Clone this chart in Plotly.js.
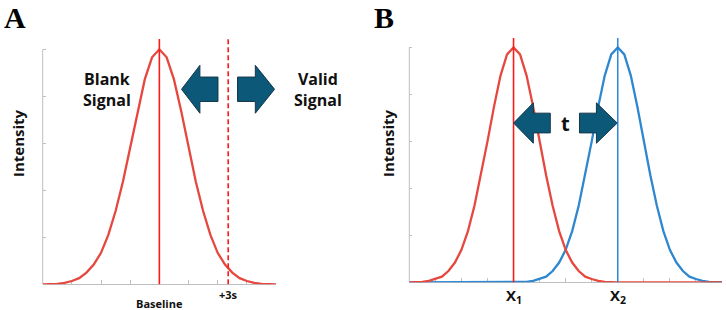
<!DOCTYPE html>
<html>
<head>
<meta charset="utf-8">
<script src="https://cdn.plot.ly/plotly-3.0.1.min.js"></script>
<style>
html,body{margin:0;padding:0;background:#ffffff;}
#chart{width:726px;height:310px;}
</style>
</head>
<body>
<div id="chart"></div>
<script>
// ---- Data (intensity, 0..5 scale) ----
// Panel A: blank-signal distribution sampled every 0.25 x-unit, x = 0 .. 8
const blankSignal = [0, 0, 0.01, 0.03, 0.07, 0.13, 0.25, 0.42, 0.67, 1.05, 1.56, 2.18, 2.92, 3.68, 4.36, 4.83,
  5.0,
  4.83, 4.36, 3.68, 2.92, 2.18, 1.56, 1.05, 0.67, 0.42, 0.25, 0.13, 0.07, 0.03, 0.01, 0, 0];
// Panel B: two distributions sampled every 0.25 x-unit, x = 0 .. 12
const peakX1 = [0, 0, 0.01, 0.03, 0.07, 0.12, 0.24, 0.42, 0.69, 1.09, 1.63, 2.28, 3.0, 3.74, 4.40, 4.85,
  5.0,
  4.85, 4.40, 3.74, 3.0, 2.28, 1.63, 1.09, 0.69, 0.42, 0.24, 0.12, 0.07, 0.03, 0.01, 0,
  0, 0, 0, 0, 0, 0, 0, 0, 0, 0, 0, 0, 0, 0, 0, 0, 0];
const peakX2 = [0, 0, 0, 0, 0, 0, 0, 0, 0, 0, 0, 0, 0, 0, 0, 0,
  0, 0, 0.01, 0.03, 0.07, 0.12, 0.24, 0.42, 0.69, 1.09, 1.63, 2.28, 3.0, 3.74, 4.40, 4.85,
  5.0,
  4.85, 4.40, 3.74, 3.0, 2.28, 1.63, 1.09, 0.69, 0.42, 0.24, 0.12, 0.07, 0.03, 0.01, 0, 0];
const sampleStep = 0.25;

// marker positions (x units)
const baselineX = 4;
const threeSigmaX = 6.36;
const x1Pos = 4;
const x2Pos = 8;

// labels
const labelsA = ['Baseline', '+3s'];
const labelsB = ['X<sub>1</sub>', 'X<sub>2</sub>'];
const yTickVals = [1, 2, 3, 4, 5];
const xTickValsA = [1, 2, 3, 4, 5, 6, 7];
const xTickValsB = [1, 2, 3, 4, 5, 6, 7, 8, 9, 10, 11];

// ---- styles ----
const RED_CURVE = '#E6473E';
const RED_LINE = '#FF1A1A';
const BLUE_CURVE = '#2E87CF';
const BLUE_LINE = '#1F80D6';
const AXIS_GREY = '#BFBFBF';
const ARROW_FILL = '#0B5878';
const ARROW_EDGE = '#17374A';
const TEXT = '#111111';
const SANS = 'Open Sans, Noto Sans, DejaVu Sans, sans-serif';

const gridOf = arr => arr.map((_, i) => i * sampleStep);

const traces = [
  {x: gridOf(blankSignal), y: blankSignal, xaxis: 'x', yaxis: 'y', mode: 'lines',
   line: {color: RED_CURVE, width: 2.3}, hoverinfo: 'skip'},
  {x: gridOf(peakX2), y: peakX2, xaxis: 'x2', yaxis: 'y2', mode: 'lines',
   line: {color: BLUE_CURVE, width: 2.3}, hoverinfo: 'skip'},
  {x: gridOf(peakX1), y: peakX1, xaxis: 'x2', yaxis: 'y2', mode: 'lines',
   line: {color: RED_CURVE, width: 2.3}, hoverinfo: 'skip'}
];

function arrowPath(tip, base, tail, yc, hh, hs) {
  return 'M ' + tip + ',' + yc +
    ' L ' + base + ',' + (yc + hh) +
    ' L ' + base + ',' + (yc + hs) +
    ' L ' + tail + ',' + (yc + hs) +
    ' L ' + tail + ',' + (yc - hs) +
    ' L ' + base + ',' + (yc - hs) +
    ' L ' + base + ',' + (yc - hh) + ' Z';
}
function arrowShape(xr, yr, path) {
  return {type: 'path', xref: xr, yref: yr, path: path, fillcolor: ARROW_FILL,
          line: {color: ARROW_EDGE, width: 1}, layer: 'above'};
}
function vline(xr, yr, xv, color, width, dash) {
  return {type: 'line', xref: xr, yref: yr + ' domain', x0: xv, x1: xv, y0: 0, y1: 1,
          line: {color: color, width: width, dash: dash || 'solid'}, layer: 'above'};
}
function yAxisLine(xr, yr) {
  return {type: 'line', xref: xr + ' domain', yref: yr, x0: 0, x1: 0, y0: 0, y1: 5,
          line: {color: AXIS_GREY, width: 1}, layer: 'below'};
}

const shapes = [
  yAxisLine('x', 'y'),
  yAxisLine('x2', 'y2'),
  vline('x', 'y', baselineX, RED_LINE, 1.6),
  vline('x', 'y', threeSigmaX, RED_LINE, 1.6, '5px,3px'),
  vline('x2', 'y2', x1Pos, RED_LINE, 1.6),
  vline('x2', 'y2', x2Pos, BLUE_LINE, 1.4),
  arrowShape('x', 'y', arrowPath(4.76, 5.39, 6.01, 4.15, 0.51, 0.26)),
  arrowShape('x', 'y', arrowPath(7.95, 7.29, 6.68, 4.15, 0.51, 0.26)),
  arrowShape('x2', 'y2', arrowPath(x1Pos, 4.76, 5.41, 3.39, 0.43, 0.21)),
  arrowShape('x2', 'y2', arrowPath(x2Pos - 0.02, 7.18, 6.53, 3.39, 0.43, 0.21))
];

const boldFont = (size) => ({family: SANS, size: size, color: TEXT, weight: 'bold'});
function note(text, xr, yr, x, y, font, extra) {
  return Object.assign({text: text, xref: xr, yref: yr, x: x, y: y, showarrow: false,
    xanchor: 'center', yanchor: 'middle', font: font}, extra || {});
}
const serif = {family: 'Liberation Serif, Times New Roman, serif', size: 30, color: '#000'};
const annotations = [
  note('<b>A</b>', 'paper', 'paper', 0.0207, 1, serif, {yanchor: 'top', borderpad: 0}),
  note('<b>B</b>', 'paper', 'paper', 0.5296, 1, serif, {yanchor: 'top', borderpad: 0}),
  note('<b>Intensity</b>', 'paper', 'paper', 0.0248, 0.5387, boldFont(15), {textangle: -90}),
  note('<b>Intensity</b>', 'paper', 'paper', 0.5344, 0.5387, boldFont(15), {textangle: -90}),
  note('<b>Blank<br>Signal</b>', 'paper', 'paper', 0.1474, 0.71, boldFont(16)),
  note('<b>Valid<br>Signal</b>', 'paper', 'paper', 0.438, 0.71, boldFont(16)),
  note('<b>' + labelsA[0] + '</b>', 'x', 'paper', baselineX, 0.0194, boldFont(11)),
  note('<b>' + labelsA[1] + '</b>', 'x', 'paper', threeSigmaX, 0.0516, boldFont(11)),
  note('<b>' + labelsB[0] + '</b>', 'x2', 'paper', x1Pos, 0.045, boldFont(15)),
  note('<b>' + labelsB[1] + '</b>', 'x2', 'paper', x2Pos, 0.045, boldFont(15)),
  note('<b>t</b>', 'x2', 'y2', (x1Pos + x2Pos) / 2, 3.39, boldFont(20))
];

const xCommon = {showgrid: false, zeroline: false, showline: true, linecolor: AXIS_GREY, linewidth: 1,
  layer: 'below traces', ticks: 'inside', ticklen: 4, tickcolor: AXIS_GREY, tickwidth: 1,
  showticklabels: false, fixedrange: true};
const yCommon = {showgrid: false, zeroline: false, showline: false, ticks: 'inside', ticklen: 3,
  tickcolor: AXIS_GREY, tickwidth: 1, tickvals: yTickVals, showticklabels: false, fixedrange: true};

const layout = {
  width: 726, height: 310,
  margin: {l: 0, r: 0, t: 0, b: 0, pad: 0},
  paper_bgcolor: '#ffffff', plot_bgcolor: 'rgba(0,0,0,0)',
  showlegend: false, hovermode: false,
  xaxis: Object.assign({}, xCommon, {domain: [0.0588, 0.3802], range: [0, 8], tickvals: xTickValsA, anchor: 'y'}),
  yaxis: Object.assign({}, yCommon, {domain: [0.0829, 0.8742], range: [0, 5.22], anchor: 'x'}),
  xaxis2: Object.assign({}, xCommon, {domain: [0.5638, 0.9945], range: [0, 12], tickvals: xTickValsB, anchor: 'y2'}),
  yaxis2: Object.assign({}, yCommon, {domain: [0.0894, 0.8774], range: [0, 5.2], anchor: 'x2'}),
  shapes: shapes,
  annotations: annotations
};

Plotly.newPlot('chart', traces, layout, {displayModeBar: false, staticPlot: true});
</script>
</body>
</html>
